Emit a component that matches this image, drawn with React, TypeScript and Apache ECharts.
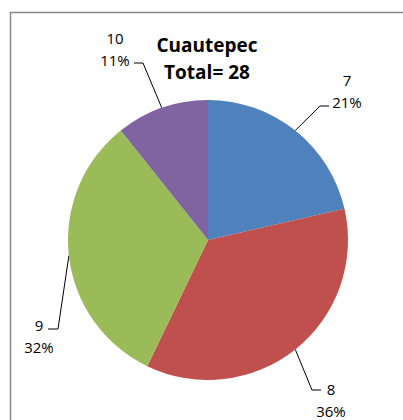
import React, { useEffect, useRef } from "react";
import * as echarts from "echarts";

const categories = ["7", "8", "9", "10"];
const values = [6, 10, 9, 3];
const colors = ["#4F81BD", "#C0504D", "#9BBB59", "#8064A2"];
const titleLines = ["Cuautepec", "Total= 28"];

// label placement (text block centre, bend point, end point) per slice
const labelPlaces = [
  { x: 347, y: 91, bend: [320, 106], end: [329, 106] },
  { x: 331, y: 400, bend: [312, 390], end: [321, 390] },
  { x: 39, y: 336, bend: [58, 329], end: [48, 329] },
  { x: 115, y: 49, bend: [143, 63], end: [134, 63] },
];

const CENTER = [208, 240];
const RADIUS = 140;

export default function App() {
  const ref = useRef<HTMLDivElement>(null);
  useEffect(() => {
    if (!ref.current) return;
    const chart = echarts.init(ref.current, null, { renderer: "svg" });
    const total = values.reduce((a, b) => a + b, 0);
    const edgePoint = (i: number) => {
      let before = 0;
      for (let k = 0; k < i; k++) before += values[k];
      const mid = (before + values[i] / 2) / total;
      const ang = (90 - mid * 360) * Math.PI / 180;
      return [CENTER[0] + RADIUS * Math.cos(ang), CENTER[1] - RADIUS * Math.sin(ang)];
    };
    chart.setOption({
      animation: false,
      backgroundColor: "#ffffff",
      title: {
        text: titleLines.join("\n"),
        left: 207,
        top: 31,
        padding: 0,
        textAlign: "center",
        textStyle: {
          fontFamily: "Open Sans",
          fontWeight: "bold",
          fontSize: 19,
          lineHeight: 27,
          color: "#000",
        },
      },
      graphic: [
        {
          type: "rect",
          shape: { x: 10.5, y: 12.5, width: 420, height: 440 },
          style: { fill: "none", stroke: "#8a8a8a", lineWidth: 1.5 },
          silent: true,
        },
      ],
      series: [
        {
          type: "pie",
          center: CENTER,
          radius: RADIUS,
          startAngle: 90,
          clockwise: true,
          percentPrecision: 0,
          avoidLabelOverlap: false,
          data: categories.map((c, i) => ({
            name: c,
            value: values[i],
            itemStyle: { color: colors[i] },
          })),
          label: {
            show: true,
            position: "outside",
            formatter: "{b}\n{d}%",
            fontFamily: "Open Sans",
            fontSize: 15,
            lineHeight: 22,
            color: "#000",
            align: "center",
          },
          labelLine: {
            show: true,
            length: 10,
            length2: 10,
            smooth: false,
            lineStyle: { color: "#000", width: 1 },
          },
          emphasis: { disabled: true },
          labelLayout: (params: any) => {
            const p = labelPlaces[params.dataIndex];
            const start =
              params.labelLinePoints && params.labelLinePoints[0]
                ? params.labelLinePoints[0]
                : edgePoint(params.dataIndex);
            return {
              x: p.x,
              y: p.y,
              align: "center",
              verticalAlign: "middle",
              labelLinePoints: [start, p.bend, p.end],
            };
          },
        },
      ],
    });
    return () => chart.dispose();
  }, []);
  return (
    <div
      ref={ref}
      style={{ position: "absolute", left: 0, top: 0, width: 403, height: 420 }}
    />
  );
}
